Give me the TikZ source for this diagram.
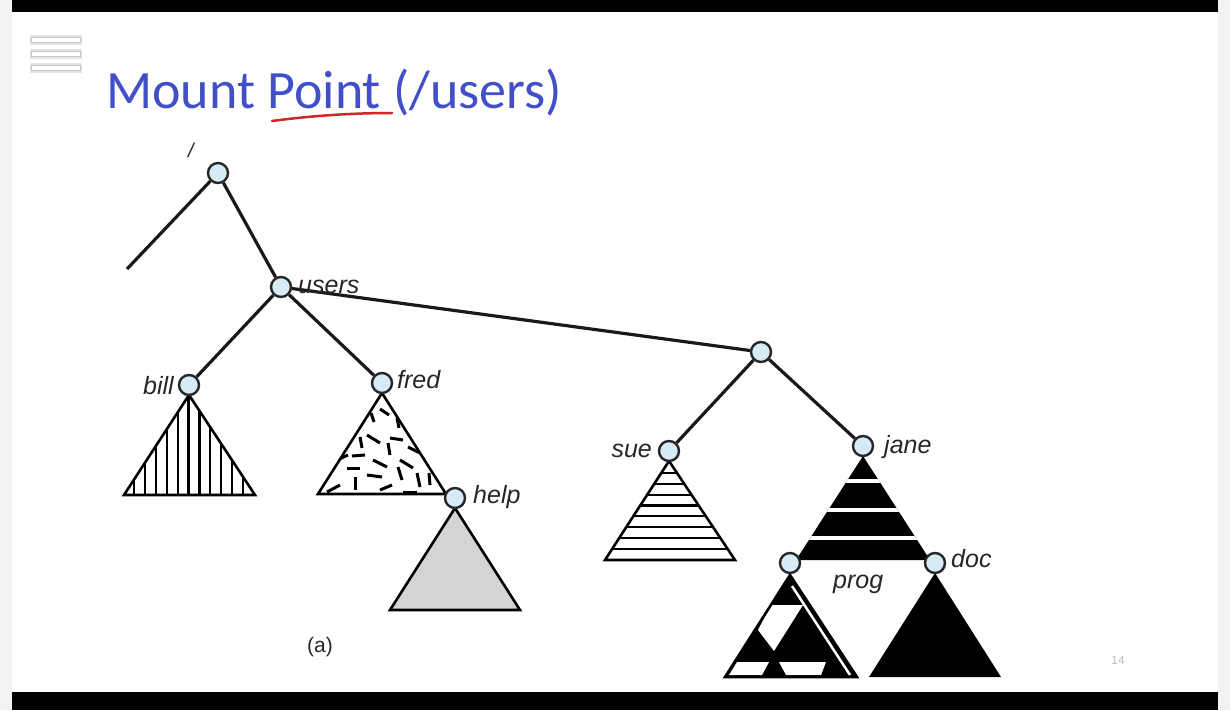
\documentclass[tikz,border=0pt]{standalone}
\usepackage{fontspec}
\setmainfont{Liberation Sans}
\newfontfamily\titlefont{Carlito}
\definecolor{titleblue}{RGB}{65,80,200}
\definecolor{nodefill}{RGB}{214,235,246}
\definecolor{helpgray}{RGB}{212,212,212}
\definecolor{penred}{RGB}{205,40,40}
\begin{document}
\begin{tikzpicture}[x=1pt,y=-1pt,
  dirnode/.style={circle,draw=black!85,line width=2.4pt,fill=nodefill,minimum size=20pt,inner sep=0pt},
  edge/.style={line width=3.2pt,black!90},
  lbl/.style={font=\fontsize{25}{25}\selectfont\itshape,inner sep=0pt,text=black!85},
  tri/.style={line width=2.6pt,line join=miter},
  dsh/.style={line width=3pt}]
\useasboundingbox (0,0) rectangle (1230,710);
\fill[black!5] (0,0) rectangle (1230,710);
\fill[white] (12,12) rectangle (1218,692);
\fill[black] (12,0) rectangle (1218,12);
\fill[black] (12,692) rectangle (1218,710);
% hamburger
\foreach \yy in {40,54,68} {
  \draw[black!10,line width=10pt] (30,\yy) -- (82,\yy);
  \draw[black!22,line width=6.5pt] (31,\yy) -- (81,\yy);
  \draw[white,line width=3.2pt] (32,\yy) -- (80,\yy);
}
% title
\node[anchor=base west,text=titleblue,font=\titlefont\fontsize{54}{54}\selectfont,inner sep=0pt] (title) at (106,108) {Mount Point (/users)};
\draw[penred,line width=2.5pt,line cap=round] (272,121) .. controls (310,116) and (350,113) .. (392,113);
% bill triangle
\begin{scope}
  \clip (189,395) -- (124,495) -- (255,495) -- cycle;
  \foreach \i in {0,...,10} \draw[line width=2.2pt] (134+10.9*\i,380) -- (134+10.9*\i,500);
\end{scope}
\draw[tri] (189,395) -- (124,495) -- (255,495) -- cycle;
% fred triangle
\begin{scope}
  \clip (382,393) -- (318,494) -- (446,494) -- cycle;
  \draw[dsh] (380,409) -- (389,415);
  \draw[dsh] (371,413) -- (374,422);
  \draw[dsh] (397,418) -- (399,428);
  \draw[dsh] (360,437) -- (362,448);
  \draw[dsh] (367,435) -- (380,443);
  \draw[dsh] (390,438) -- (403,440);
  \draw[dsh] (388,443) -- (390,455);
  \draw[dsh] (408,447) -- (420,453);
  \draw[dsh] (337,460) -- (348,455);
  \draw[dsh] (352,456) -- (365,455);
  \draw[dsh] (373,460) -- (387,467);
  \draw[dsh] (400,460) -- (413,468);
  \draw[dsh] (347,468) -- (360,468);
  \draw[dsh] (367,475) -- (382,477);
  \draw[dsh] (398,467) -- (402,480);
  \draw[dsh] (417,473) -- (420,487);
  \draw[dsh] (429,473) -- (430,485);
  \draw[dsh] (355,477) -- (355,490);
  \draw[dsh] (327,492) -- (340,485);
  \draw[dsh] (380,490) -- (392,485);
  \draw[dsh] (403,492) -- (417,492);
\end{scope}
\draw[tri] (382,393) -- (318,494) -- (446,494) -- cycle;
% help triangle
\draw[tri,fill=helpgray] (455,508) -- (390,610) -- (520,610) -- cycle;
% sue triangle
\begin{scope}
  \clip (669,461) -- (605,560) -- (735,560) -- cycle;
  \foreach \i in {0,...,7} \draw[line width=2.2pt] (600,473+10.8*\i) -- (740,473+10.8*\i);
\end{scope}
\draw[tri] (669,461) -- (605,560) -- (735,560) -- cycle;
% jane triangle
\fill[black] (863,456) -- (796,560) -- (930,560) -- cycle;
\begin{scope}
  \clip (863,456) -- (796,560) -- (930,560) -- cycle;
  \foreach \yy in {481,510,538} \draw[white,line width=3.2pt] (780,\yy) -- (940,\yy);
\end{scope}
% prog triangle
\fill[black] (790,575) -- (725,677) -- (857,677) -- cycle;
\fill[white] (771,605) -- (803,605) -- (774,651) -- (758,630) -- cycle;
\fill[white] (737,662) -- (769,662) -- (762,675) -- (729,675) -- cycle;
\fill[white] (779,662) -- (826,662) -- (821,675) -- (786,675) -- cycle;
\draw[white,line width=2.5pt] (792,586) -- (850,675);
\draw[tri] (790,575) -- (725,677) -- (857,677) -- cycle;
% doc triangle
\fill[black] (935,573) -- (869,677) -- (1001,677) -- cycle;
% nodes
\node[dirnode] (root) at (218,173) {};
\coordinate (lend) at (127,269);
\node[dirnode] (users) at (281,287) {};
\node[dirnode] (bill) at (189,385) {};
\node[dirnode] (fred) at (382,383) {};
\node[dirnode] (mnt) at (761,352) {};
\node[dirnode] (sue) at (669,451) {};
\node[dirnode] (jane) at (863,446) {};
\node[dirnode] (help) at (455,498) {};
\node[dirnode] (prog) at (790,563) {};
\node[dirnode] (doc) at (935,563) {};
% edges
\draw[edge] (root) -- (lend);
\draw[edge] (root) -- (users);
\draw[edge] (users) -- (bill);
\draw[edge] (users) -- (fred);
\draw[edge] (users) -- (mnt);
\draw[edge] (mnt) -- (sue);
\draw[edge] (mnt) -- (jane);
% labels
\node[lbl,anchor=base,font=\fontsize{20}{20}\selectfont\itshape] (lslash) at (191,157) {/};
\node[lbl,anchor=base west] (lusers) at (298,293) {users};
\node[lbl,anchor=base east] (lbill) at (174,394) {bill};
\node[lbl,anchor=base west] (lfred) at (397,388) {fred};
\node[lbl,anchor=base west] (lhelp) at (473,503) {help};
\node[lbl,anchor=base east] (lsue) at (652,457) {sue};
\node[lbl,anchor=base west] (ljane) at (884,453) {jane};
\node[lbl,anchor=base west] (ldoc) at (951,567) {doc};
\node[lbl,anchor=base west] (lprog) at (833,588) {prog};
\node[font=\fontsize{21}{21}\selectfont,text=black!85] (la) at (320,647) {(a)};
\node[text=black!25,font=\fontsize{12}{12}\selectfont] (pg) at (1118,660) {14};
\end{tikzpicture}
\end{document}
